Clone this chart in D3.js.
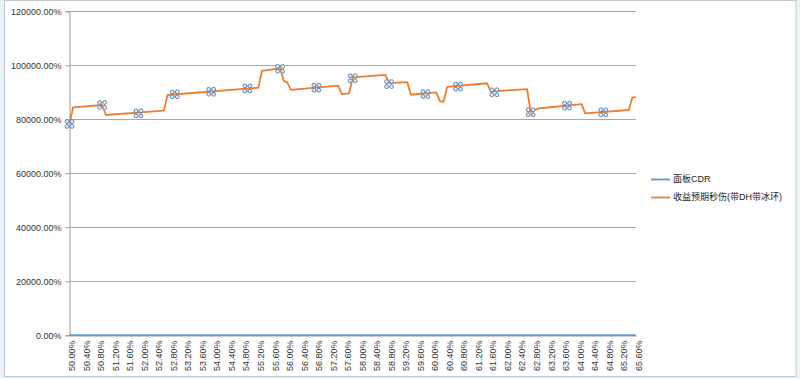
<!DOCTYPE html>
<html>
<head>
<meta charset="utf-8">
<script src="https://cdn.jsdelivr.net/npm/d3@7"></script>
<style>
  body { margin: 0; background: #eaf3f7; }
  svg { display: block; }
  .axis text { font-family: "Liberation Sans", Arial, sans-serif; font-size: 9px; fill: #333; }
  .legend text { font-family: "Liberation Sans", "Noto Sans CJK SC", sans-serif; font-size: 9px; fill: #222; }
</style>
</head>
<body>
<svg id="chart" width="800" height="379"></svg>
<script>
// category tick labels (every 4th category, 0.1% steps)
var xTickLabels = ["50.00%", "50.40%", "50.80%", "51.20%", "51.60%", "52.00%", "52.40%", "52.80%",
    "53.20%", "53.60%", "54.00%", "54.40%", "54.80%", "55.20%", "55.60%", "56.00%", "56.40%", "56.80%",
    "57.20%", "57.60%", "58.00%", "58.40%", "58.80%", "59.20%", "59.60%", "60.00%", "60.40%", "60.80%",
    "61.20%", "61.60%", "62.00%", "62.40%", "62.80%", "63.20%", "63.60%", "64.00%", "64.40%", "64.80%",
    "65.20%", "65.60%"];
var yTicks = [0, 20000, 40000, 60000, 80000, 100000, 120000];

var seriesNames = ["面板CDR", "收益预期秒伤(带DH带冰环)"];

// 面板CDR (value = the CDR itself, in %)
var cdrX = [50.0, 65.6];
var cdrY = [50.0, 65.6];

// 收益预期秒伤 - vertices (x = CDR %, y = %)
var dpsX = [50.0, 50.1, 50.9, 51.0, 52.6, 52.7, 55.2, 55.3, 55.8, 55.9, 56.0, 56.1, 57.4, 57.5, 57.7, 57.8,
    58.7, 58.8, 59.3, 59.4, 60.1, 60.2, 60.3, 60.4, 61.5, 61.6, 62.6, 62.7, 62.9, 64.1, 64.2, 65.4, 65.5, 65.6];
var dpsY = [78300, 84450, 85300, 81600, 83200, 89000, 91700, 97900, 98900, 94300, 93600, 90900, 92450, 89300,
    89600, 95500, 96450, 93400, 93800, 89100, 90000, 86700, 86500, 92000, 93350, 90300, 91200, 82700, 84000,
    85600, 82200, 83450, 88100, 88100];

// the little 4-circle markers sitting on the orange line
var markX = [50.0, 50.9, 51.9, 52.9, 53.9, 54.9, 55.8, 56.8, 57.8, 58.8, 59.8, 60.7, 61.7, 62.7, 63.7, 64.7];
var markY = [78300, 85300, 82200, 89250, 90200, 91450, 98700, 91700, 95200, 93050, 89350, 92100, 90000,
    82600, 85050, 82600];

var svg = d3.select("#chart");

// chart area
svg.append("rect")
    .attr("x", 4.5).attr("y", 0.5)
    .attr("width", 791.5).attr("height", 376)
    .attr("fill", "#fff")
    .attr("stroke", "#c3c9cc");

var xScale = d3.scaleLinear().domain([50, 65.6]).range([69.5, 636]);
var yScale = d3.scaleLinear().domain([0, 120000]).range([335.3, 11.3]);

// gridlines
svg.append("g")
    .selectAll("line")
    .data(yTicks.slice(1))
    .enter().append("line")
    .attr("x1", xScale(50)).attr("x2", xScale(65.6))
    .attr("y1", d => Math.round(yScale(d)) + 0.5)
    .attr("y2", d => Math.round(yScale(d)) + 0.5)
    .attr("stroke", "#a8a8a8");

// y axis
var yAxis = svg.append("g")
    .attr("class", "axis")
    .attr("transform", "translate(69.5,0)")
    .call(d3.axisLeft(yScale).tickValues(yTicks).tickSize(4).tickPadding(4)
        .tickFormat(d => d.toFixed(2) + "%"));
yAxis.selectAll("line, path").attr("stroke", "#9a9a9a");

// x axis
var xAxis = svg.append("g")
    .attr("class", "axis")
    .attr("transform", "translate(0," + (Math.round(yScale(0)) + 0.5) + ")")
    .call(d3.axisBottom(xScale).tickValues(xTickLabels.map(s => parseFloat(s)))
        .tickSize(0).tickFormat((d, i) => xTickLabels[i]));
xAxis.select(".domain").attr("stroke", "#9a9a9a");
xAxis.selectAll("text")
    .attr("transform", "rotate(-90)")
    .attr("text-anchor", "end")
    .attr("x", -5)
    .attr("y", 2)
    .attr("dy", "0.35em");

var line = d3.line()
    .x(d => xScale(d[0]))
    .y(d => yScale(d[1]));

svg.append("path")
    .datum(cdrX.map((v, i) => [v, cdrY[i]]))
    .attr("fill", "none")
    .attr("stroke", "#5b9bd5")
    .attr("stroke-width", 1.8)
    .attr("d", line);

svg.append("path")
    .datum(dpsX.map((v, i) => [v, dpsY[i]]))
    .attr("fill", "none")
    .attr("stroke", "#ed7d31")
    .attr("stroke-width", 1.8)
    .attr("stroke-linejoin", "round")
    .attr("d", line);

// markers: 2x2 small circles
var marks = svg.append("g")
    .selectAll("g")
    .data(markX.map((v, i) => [v, markY[i]]))
    .enter().append("g")
    .attr("transform", d => "translate(" + xScale(d[0]) + "," + yScale(d[1]) + ")");
marks.append("rect")
    .attr("x", -2.5).attr("y", -2.5).attr("width", 5).attr("height", 5)
    .attr("fill", "none").attr("stroke", "#6d8fb5").attr("stroke-width", 0.8);
[[-2.5, -2.5], [2.5, -2.5], [-2.5, 2.5], [2.5, 2.5]].forEach(function (o) {
    marks.append("circle")
        .attr("cx", o[0]).attr("cy", o[1]).attr("r", 1.9)
        .attr("fill", "#e4ecf5")
        .attr("stroke", "#5f84ae")
        .attr("stroke-width", 1);
});

// legend
var legend = svg.append("g").attr("class", "legend");
var legendColors = ["#5b9bd5", "#ed7d31"];
var legendY = [179.5, 197.5];
seriesNames.forEach(function (name, i) {
    legend.append("line")
        .attr("x1", 651).attr("x2", 670)
        .attr("y1", legendY[i]).attr("y2", legendY[i])
        .attr("stroke", legendColors[i]).attr("stroke-width", 1.8);
    legend.append("text")
        .attr("x", 673).attr("y", legendY[i] - 1)
        .attr("dy", "0.35em")
        .text(name);
});
</script>
</body>
</html>
